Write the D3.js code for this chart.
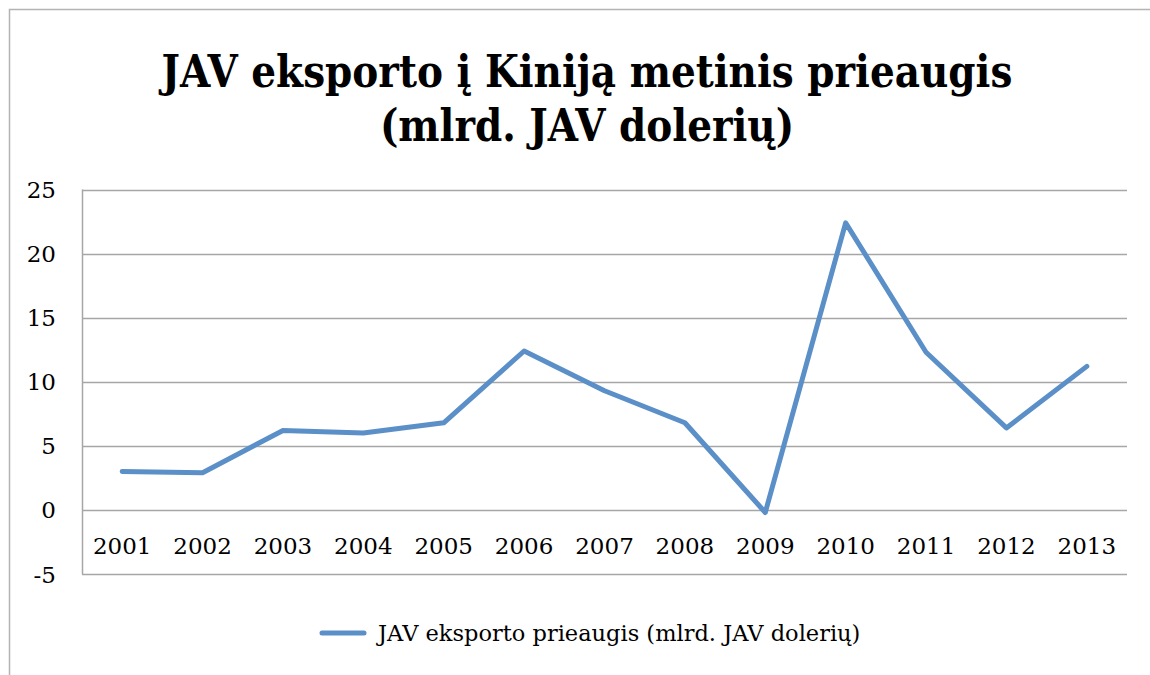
<!DOCTYPE html>
<html><head><meta charset="utf-8">
<script src="https://cdn.jsdelivr.net/npm/d3@7"></script>
<style>body{margin:0;background:#fff}svg{display:block}</style>
</head><body>
<script>
const years = ["2001","2002","2003","2004","2005","2006","2007","2008","2009","2010","2011","2012","2013"];
const values = [3.0, 2.9, 6.2, 6.0, 6.8, 12.4, 9.3, 6.8, -0.2, 22.4, 12.3, 6.4, 11.2];
const yTicks = [-5, 0, 5, 10, 15, 20, 25];
const titleLines = ["JAV eksporto į Kiniją metinis prieaugis", "(mlrd. JAV dolerių)"];
const seriesName = "JAV eksporto prieaugis (mlrd. JAV dolerių)";

const W = 1150, H = 675;
const svg = d3.select("body").append("svg").attr("width", W).attr("height", H);
const font = "'DejaVu Serif', 'Liberation Serif', serif";

// outer border
svg.append("rect").attr("x", 9.5).attr("y", 9.5).attr("width", 1160).attr("height", 700)
  .attr("fill", "none").attr("stroke", "#b3b3b3").attr("stroke-width", 1.5);

const m = {left: 82, right: 1127, top: 189.5, bottom: 574};
const x = d3.scaleBand().domain(years).range([m.left, m.right]);
const y = d3.scaleLinear().domain([-5, 25]).range([m.bottom, m.top]);

// title
const titleBase = [87, 141];
svg.append("g").selectAll("text").data(titleLines).join("text")
  .attr("transform", (d, i) => `translate(587,${titleBase[i]}) scale(1,1.17)`)
  .attr("text-anchor", "middle").attr("font-family", font).attr("font-weight", "bold")
  .attr("font-size", 39).attr("fill", "#000").text(d => d);

// gridlines
svg.append("g").selectAll("line").data(yTicks).join("line")
  .attr("x1", m.left).attr("x2", m.right)
  .attr("y1", d => Math.round(y(d)) + 0.5).attr("y2", d => Math.round(y(d)) + 0.5)
  .attr("stroke", "#a6a6a6").attr("stroke-width", 1.5);

// left axis line
svg.append("line").attr("x1", m.left + 0.5).attr("x2", m.left + 0.5)
  .attr("y1", m.top).attr("y2", m.bottom).attr("stroke", "#a6a6a6").attr("stroke-width", 1.5);

// y tick labels
const yAxis = d3.axisLeft(y).tickValues(yTicks).tickSize(0).tickPadding(0).tickFormat(d => String(d));
const ga = svg.append("g").attr("transform", `translate(${m.left - 26},0)`).call(yAxis);
ga.select(".domain").remove();
ga.selectAll("text").attr("font-family", font).attr("font-size", 23).attr("fill", "#000")
  .attr("text-anchor", "end").attr("dy", "0.35em");

// x tick labels
const xAxis = d3.axisBottom(x).tickSize(0).tickPadding(0);
const gx = svg.append("g").attr("transform", `translate(0,${y(0) + 36})`).call(xAxis);
gx.select(".domain").remove();
gx.selectAll("text").attr("font-family", font).attr("font-size", 23).attr("fill", "#000")
  .attr("dy", "0.35em");

// line
const line = d3.line().x((d, i) => x(years[i]) + x.bandwidth() / 2).y(d => y(d));
svg.append("path").datum(values).attr("d", line).attr("fill", "none")
  .attr("stroke", "#5B8FC8").attr("stroke-width", 5).attr("stroke-linejoin", "round").attr("stroke-linecap", "round");

// legend
const lg = svg.append("g");
lg.append("line").attr("x1", 322).attr("x2", 364).attr("y1", 633).attr("y2", 633)
  .attr("stroke", "#5B8FC8").attr("stroke-width", 5).attr("stroke-linecap", "round");
lg.append("text").attr("x", 378).attr("y", 633).attr("dy", "0.35em")
  .attr("font-family", font).attr("font-size", 22.5).attr("fill", "#000").text(seriesName);
</script>
</body></html>
